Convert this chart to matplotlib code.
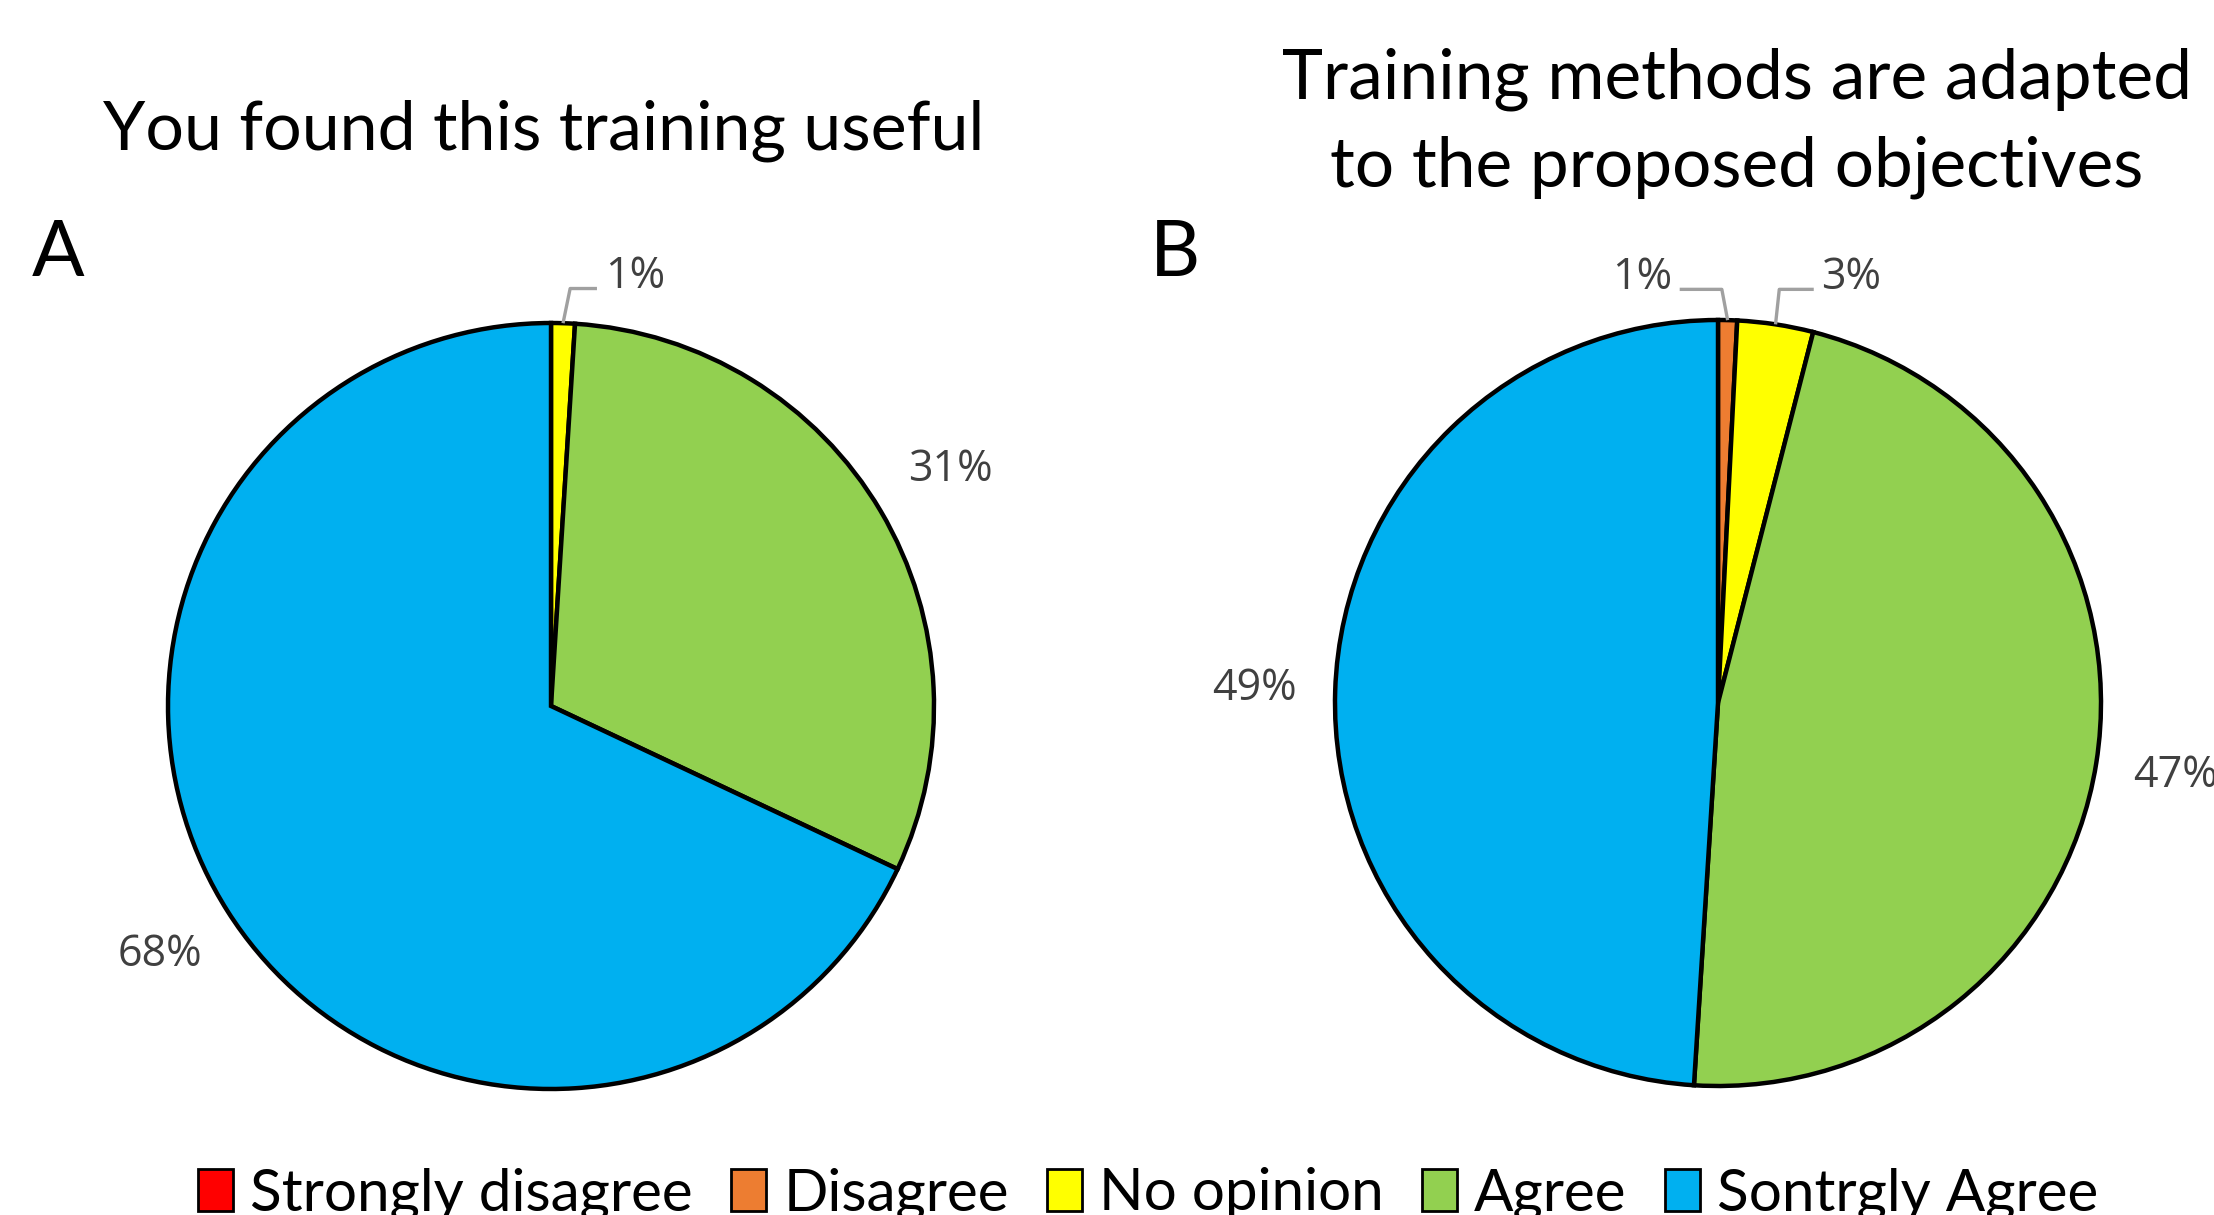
import numpy as np
import matplotlib
matplotlib.use("Agg")
import matplotlib.pyplot as plt
from matplotlib.patches import Patch

categories = ["Strongly disagree", "Disagree", "No opinion", "Agree", "Sontrgly Agree"]
colors = ["#FF0000", "#ED7D31", "#FFFF00", "#92D050", "#00B0F0"]

values_a = [0, 0, 1, 31, 68]
values_b = [0, 0.8, 3.2, 47, 49]
labels_a = ["", "", "1%", "31%", "68%"]
labels_b = ["", "1%", "3%", "47%", "49%"]

title_a = "You found this training useful"
title_b = "Training methods are adapted\nto the proposed objectives"

TITLE_FONT = "Lato"
LABEL_FONT = "Open Sans"
GRAY = "#404040"

W, H = 2214, 1215
fig = plt.figure(figsize=(W / 100, H / 100), dpi=100)


def pie_axes(cx, cy, r):
    # cx, cy, r in pixels, y from top
    return fig.add_axes([(cx - r) / W, (H - cy - r) / H, 2 * r / W, 2 * r / H])


def draw_pie(ax, values, labels, leaders):
    wedges, _ = ax.pie(values, colors=colors, startangle=90, counterclock=False,
                       radius=1.0,
                       wedgeprops=dict(edgecolor="black", linewidth=3.2))
    ax.set_xlim(-1.0, 1.0)
    ax.set_ylim(-1.0, 1.0)
    ax.set_aspect("equal")
    ax.axis("off")
    for w in wedges:
        w.set_clip_on(False)
    for w, lab in zip(wedges, labels):
        if not lab:
            continue
        ang = np.deg2rad((w.theta1 + w.theta2) / 2)
        if lab in leaders and w in wedges[:3]:
            tx, ex, ey, ha = leaders[lab]
            x0, y0 = np.cos(ang), np.sin(ang)
            ax.plot([x0, ex, tx], [y0, ey, ey], color="#A0A0A0", lw=2.4,
                    clip_on=False, solid_capstyle="butt")
            ax.text(tx + (0.02 if ha == "left" else -0.02), ey + 0.03, lab,
                    ha=ha, va="center", fontsize=31, color=GRAY,
                    family=LABEL_FONT)
        else:
            ax.text(1.21 * np.cos(ang), 1.21 * np.sin(ang), lab, ha="center",
                    va="center", fontsize=31, color=GRAY, family=LABEL_FONT)


ax_a = pie_axes(551, 706, 383)
draw_pie(ax_a, values_a, labels_a,
         {"1%": (0.12, 0.05, 1.09, "left")})

ax_b = pie_axes(1718, 703, 383)
draw_pie(ax_b, values_b, labels_b,
         {"1%": (-0.10, 0.01, 1.08, "right"),
          "3%": (0.25, 0.16, 1.08, "left")})

fig.text(544 / W, 1 - 131 / H, title_a, ha="center", va="center",
         fontsize=49, family=TITLE_FONT)
fig.text(1737 / W, 1 - 123 / H, title_b, ha="center", va="center",
         fontsize=50, family=TITLE_FONT, linespacing=1.48)
fig.text(58 / W, 1 - 254 / H, "A", ha="center", va="center",
         fontsize=56, family=TITLE_FONT)
fig.text(1175 / W, 1 - 254 / H, "B", ha="center", va="center",
         fontsize=56, family=TITLE_FONT)

handles = [Patch(facecolor=c, edgecolor="black", linewidth=2.0) for c in colors]
fig.legend(handles, categories, loc="center", ncol=5,
           bbox_to_anchor=(1148 / W, 1 - 1194 / H), frameon=False,
           prop=dict(family=TITLE_FONT, size=42), handlelength=0.6,
           handleheight=0.75, handletextpad=0.3, columnspacing=0.65,
           borderaxespad=0)

fig.savefig("out.png", dpi=100, facecolor="white")
